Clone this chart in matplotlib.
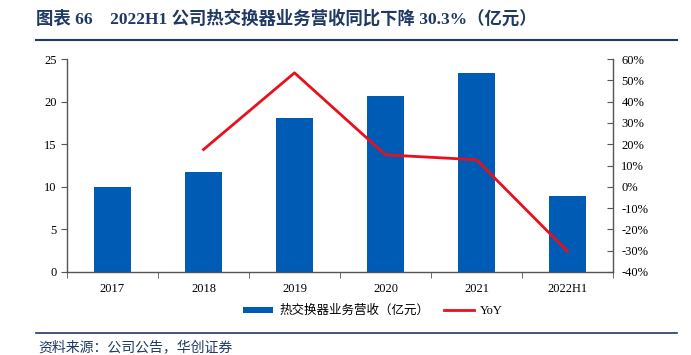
import matplotlib
matplotlib.use("Agg")
import matplotlib.pyplot as plt
from matplotlib.ticker import FixedLocator, FuncFormatter

plt.rcParams['font.family'] = ['Liberation Serif', 'Noto Sans CJK SC', 'DejaVu Sans']

categories = ["2017", "2018", "2019", "2020", "2021", "2022H1"]
revenue = [10.0, 11.7, 18.1, 20.7, 23.4, 8.9]
yoy = [None, 17.5, 53.5, 15.0, 12.7, -30.3]

title = "图表 66    2022H1 公司热交换器业务营收同比下降 30.3%（亿元）"
source = "资料来源：公司公告，华创证券"
bar_label = "热交换器业务营收（亿元）"
line_label = "YoY"

W, H = 691, 355
fig = plt.figure(figsize=(W / 100, H / 100), dpi=100)

def fx(px):
    return px / W

def fy(py):
    return 1 - py / H

ax = fig.add_axes([fx(67), fy(272), fx(613) - fx(67), fy(59) - fy(272)])
x = list(range(len(categories)))
bars = ax.bar(x, revenue, width=0.4, color="#005BB5", label=bar_label, zorder=2)
ax.set_xlim(-0.5, len(categories) - 0.5)
ax.set_ylim(0, 25)
ax.set_yticks([0, 5, 10, 15, 20, 25])
ax.set_xticks(x)
ax.set_xticklabels(categories)
ax.xaxis.set_minor_locator(FixedLocator([i + 0.5 for i in range(-1, len(categories))]))
ax.tick_params(axis='x', which='major', length=0, pad=8, labelsize=9)
ax.tick_params(axis='x', which='minor', length=4, direction='out', color='#555555')
ax.tick_params(axis='y', length=4, direction='out', labelsize=9, color='#555555')
for s in ['top', 'right']:
    ax.spines[s].set_visible(False)
for s in ['left', 'bottom']:
    ax.spines[s].set_color('#555555')
    ax.spines[s].set_linewidth(1.0)

ax2 = ax.twinx()
xs = [i for i, v in enumerate(yoy) if v is not None]
ys = [v for v in yoy if v is not None]
line, = ax2.plot(xs, ys, color="#E8101C", linewidth=2.0, label=line_label, zorder=3)
ax2.set_ylim(-40, 60)
ax2.set_yticks(list(range(-40, 61, 10)))
ax2.yaxis.set_major_formatter(FuncFormatter(lambda v, p: f"{int(round(v))}%"))
ax2.tick_params(axis='y', length=4, direction='in', labelsize=9, color='#555555', pad=6)
for s in ['top', 'left', 'bottom']:
    ax2.spines[s].set_visible(False)
ax2.spines['right'].set_color('#555555')
ax2.spines['right'].set_linewidth(1.0)

fig.legend([bars, line], [bar_label, line_label], loc='center',
           bbox_to_anchor=(fx(373), fy(311)), ncol=2, frameon=False,
           handlelength=2.4, columnspacing=1.2, handleheight=0.4, handletextpad=0.5,
           prop={'family': ['Liberation Serif', 'Noto Sans CJK SC'], 'size': 9})

fig.text(fx(36), fy(19), title, fontsize=12.5, fontweight='bold', color='#1F3864',
         va='center', ha='left', family=['Liberation Serif', 'Noto Sans CJK SC'])
fig.add_artist(plt.Line2D([fx(36), fx(677)], [fy(40), fy(40)], color='#1F3864', linewidth=1.5))
fig.add_artist(plt.Line2D([fx(36), fx(677)], [fy(333), fy(333)], color='#1F3864', linewidth=1.2))
fig.text(fx(38), fy(347), source, fontsize=10, color='#1F3864', style='italic',
         va='center', ha='left', family=['Noto Sans CJK SC'])

fig.savefig("out.png", dpi=100)
